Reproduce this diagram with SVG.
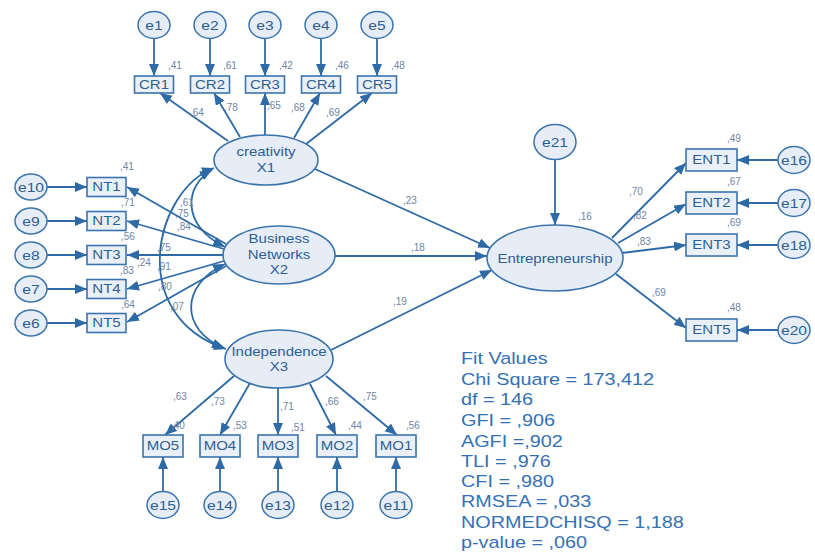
<svg xmlns="http://www.w3.org/2000/svg" width="815" height="556" viewBox="0 0 815 556">
  <style>
    .ln { stroke:#2e6aa6; stroke-width:1.8; fill:none; }
    .ar { marker-end:url(#head); }
    .cv { marker-start:url(#head2); marker-end:url(#head2); }
    .lat { fill:#e6edf6; stroke:#3b74ad; stroke-width:1.6; }
    .err { fill:#e6edf6; stroke:#3b74ad; stroke-width:1.5; }
    .box { fill:#eaf0f8; stroke:#3b74ad; stroke-width:1.6; }
    text { font-family:"Liberation Sans", Arial, sans-serif; }
    .t { font-size:12.5px; fill:#2d5e94; text-anchor:middle; transform-box:fill-box; transform-origin:center; transform:scaleX(1.2); }
    .te { font-size:13px; fill:#2d5e94; text-anchor:middle; transform-box:fill-box; transform-origin:center; transform:scaleX(1.2); }
    .num { font-size:10px; fill:#6f84a3; }
    .fit { font-size:16.5px; fill:#3371b5; transform-box:fill-box; transform-origin:left center; transform:scaleX(1.2); }
  </style>
  <defs>
    <marker id="head" markerUnits="userSpaceOnUse" markerWidth="13" markerHeight="11" refX="12" refY="5" orient="auto">
      <path d="M0,0 L12,5 L0,10 z" fill="#2e6aa6"/>
    </marker>
    <marker id="head2" markerUnits="userSpaceOnUse" markerWidth="13" markerHeight="11" refX="12" refY="5" orient="auto-start-reverse">
      <path d="M0,0 L12,5 L0,10 z" fill="#2e6aa6"/>
    </marker>
  </defs>
  <rect width="815" height="556" fill="#ffffff"/>

  <g id="connectors">
    <!-- error terms to indicators: creativity -->
    <line class="ln ar" x1="154" y1="38.5" x2="154" y2="76"/>
    <line class="ln ar" x1="210" y1="38.5" x2="210" y2="76"/>
    <line class="ln ar" x1="265" y1="38.5" x2="265" y2="76"/>
    <line class="ln ar" x1="321" y1="38.5" x2="321" y2="76"/>
    <line class="ln ar" x1="377" y1="38.5" x2="377" y2="76"/>
    <!-- creativity loadings -->
    <line class="ln ar" x1="228" y1="141" x2="160" y2="93"/>
    <line class="ln ar" x1="240" y1="137" x2="214" y2="93"/>
    <line class="ln ar" x1="265" y1="135" x2="265" y2="93"/>
    <line class="ln ar" x1="294" y1="138" x2="320" y2="93"/>
    <line class="ln ar" x1="306" y1="144" x2="372" y2="93"/>
    <!-- error terms to indicators: networks -->
    <line class="ln ar" x1="47" y1="187" x2="87" y2="187"/>
    <line class="ln ar" x1="47" y1="221" x2="87" y2="221"/>
    <line class="ln ar" x1="47" y1="255" x2="87" y2="255"/>
    <line class="ln ar" x1="47" y1="289" x2="87" y2="289"/>
    <line class="ln ar" x1="47" y1="323" x2="87" y2="323"/>
    <!-- networks loadings -->
    <line class="ln ar" x1="226" y1="244" x2="127" y2="187"/>
    <line class="ln ar" x1="224" y1="249" x2="127" y2="221"/>
    <line class="ln ar" x1="223" y1="255" x2="127" y2="255"/>
    <line class="ln ar" x1="224" y1="261" x2="127" y2="289"/>
    <line class="ln ar" x1="226" y1="266" x2="127" y2="322"/>
    <!-- covariances between the exogenous factors -->
    <path class="ln cv" d="M214,168 C155,190 125,315 226,349"/>
    <path class="ln cv" d="M212,170 C185,185 180,225 225,247"/>
    <path class="ln cv" d="M225,264 C180,285 180,330 224,348"/>
    <!-- structural paths -->
    <line class="ln ar" x1="315" y1="169" x2="490" y2="248"/>
    <line class="ln ar" x1="335" y1="256" x2="487" y2="256"/>
    <line class="ln ar" x1="331" y1="350" x2="492" y2="270"/>
    <line class="ln ar" x1="555" y1="160" x2="555" y2="225"/>
    <!-- entrepreneurship loadings -->
    <line class="ln ar" x1="612" y1="238" x2="686" y2="163"/>
    <line class="ln ar" x1="618" y1="243" x2="686" y2="204"/>
    <line class="ln ar" x1="622" y1="253" x2="686" y2="245"/>
    <line class="ln ar" x1="616" y1="274" x2="686" y2="328"/>
    <line class="ln ar" x1="778" y1="160" x2="737" y2="160"/>
    <line class="ln ar" x1="778" y1="203" x2="737" y2="203"/>
    <line class="ln ar" x1="778" y1="245" x2="737" y2="245"/>
    <line class="ln ar" x1="778" y1="330" x2="737" y2="330"/>
    <!-- independence loadings -->
    <line class="ln ar" x1="234" y1="376" x2="165" y2="435"/>
    <line class="ln ar" x1="250" y1="383" x2="220" y2="435"/>
    <line class="ln ar" x1="278" y1="388" x2="278" y2="435"/>
    <line class="ln ar" x1="310" y1="384" x2="336" y2="435"/>
    <line class="ln ar" x1="326" y1="376" x2="397" y2="435"/>
    <line class="ln ar" x1="163" y1="491.5" x2="163" y2="457"/>
    <line class="ln ar" x1="220" y1="491.5" x2="220" y2="457"/>
    <line class="ln ar" x1="278" y1="491.5" x2="278" y2="457"/>
    <line class="ln ar" x1="337" y1="491.5" x2="337" y2="457"/>
    <line class="ln ar" x1="396" y1="491.5" x2="396" y2="457"/>

    <!-- standardized estimates on paths -->
    <text class="num" x="190" y="116">,64</text>
    <text class="num" x="224" y="111">,78</text>
    <text class="num" x="267" y="109">,65</text>
    <text class="num" x="291" y="111">,68</text>
    <text class="num" x="326" y="116">,69</text>
    <text class="num" x="180" y="206">,61</text>
    <text class="num" x="175" y="217">,75</text>
    <text class="num" x="177" y="230">,84</text>
    <text class="num" x="157" y="251">,75</text>
    <text class="num" x="137" y="266">,24</text>
    <text class="num" x="157" y="270">,91</text>
    <text class="num" x="158" y="290">,80</text>
    <text class="num" x="170" y="310">,07</text>
    <text class="num" x="403" y="204">,23</text>
    <text class="num" x="411" y="251">,18</text>
    <text class="num" x="393" y="305">,19</text>
    <text class="num" x="629" y="195">,70</text>
    <text class="num" x="633" y="219">,82</text>
    <text class="num" x="637" y="245">,83</text>
    <text class="num" x="652" y="296">,69</text>
    <text class="num" x="173" y="400">,63</text>
    <text class="num" x="211" y="405">,73</text>
    <text class="num" x="280" y="410">,71</text>
    <text class="num" x="325" y="405">,66</text>
    <text class="num" x="363" y="400">,75</text>
  </g>

  <!-- creativity block -->
  <g id="e1"><ellipse class="err" cx="154" cy="25" rx="16" ry="13.5"/><text class="te" x="154" y="30">e1</text></g>
  <g id="e2"><ellipse class="err" cx="210" cy="25" rx="16" ry="13.5"/><text class="te" x="210" y="30">e2</text></g>
  <g id="e3"><ellipse class="err" cx="265" cy="25" rx="16" ry="13.5"/><text class="te" x="265" y="30">e3</text></g>
  <g id="e4"><ellipse class="err" cx="321" cy="25" rx="16" ry="13.5"/><text class="te" x="321" y="30">e4</text></g>
  <g id="e5"><ellipse class="err" cx="377" cy="25" rx="16" ry="13.5"/><text class="te" x="377" y="30">e5</text></g>
  <g id="CR1"><rect class="box" x="134.5" y="76" width="39" height="17"/><text class="t" x="154" y="89">CR1</text><text class="num" x="168" y="69">,41</text></g>
  <g id="CR2"><rect class="box" x="190.5" y="76" width="39" height="17"/><text class="t" x="210" y="89">CR2</text><text class="num" x="223" y="69">,61</text></g>
  <g id="CR3"><rect class="box" x="245.5" y="76" width="39" height="17"/><text class="t" x="265" y="89">CR3</text><text class="num" x="279" y="69">,42</text></g>
  <g id="CR4"><rect class="box" x="301.5" y="76" width="39" height="17"/><text class="t" x="321" y="89">CR4</text><text class="num" x="335" y="69">,46</text></g>
  <g id="CR5"><rect class="box" x="357.5" y="76" width="39" height="17"/><text class="t" x="377" y="89">CR5</text><text class="num" x="391" y="69">,48</text></g>
  <g id="creativity"><ellipse class="lat" cx="266" cy="160" rx="52" ry="25"/><text class="t" x="266" y="156.5">creativity</text><text class="t" x="266" y="172.5">X1</text></g>

  <!-- business networks block -->
  <g id="e10"><ellipse class="err" cx="31" cy="187" rx="16" ry="13"/><text class="te" x="31" y="192">e10</text></g>
  <g id="e9"><ellipse class="err" cx="31" cy="221" rx="16" ry="13"/><text class="te" x="31" y="226">e9</text></g>
  <g id="e8"><ellipse class="err" cx="31" cy="255" rx="16" ry="13"/><text class="te" x="31" y="260">e8</text></g>
  <g id="e7"><ellipse class="err" cx="31" cy="289" rx="16" ry="13"/><text class="te" x="31" y="294">e7</text></g>
  <g id="e6"><ellipse class="err" cx="31" cy="323" rx="16" ry="13"/><text class="te" x="31" y="328">e6</text></g>
  <g id="NT1"><rect class="box" x="87" y="177.5" width="39" height="19"/><text class="t" x="106.5" y="191.5">NT1</text><text class="num" x="120" y="170">,41</text></g>
  <g id="NT2"><rect class="box" x="87" y="211.5" width="39" height="19"/><text class="t" x="106.5" y="225.5">NT2</text><text class="num" x="121" y="206">,71</text></g>
  <g id="NT3"><rect class="box" x="87" y="245.5" width="39" height="19"/><text class="t" x="106.5" y="259.5">NT3</text><text class="num" x="121" y="240">,56</text></g>
  <g id="NT4"><rect class="box" x="87" y="279.5" width="39" height="19"/><text class="t" x="106.5" y="293.5">NT4</text><text class="num" x="120" y="274">,83</text></g>
  <g id="NT5"><rect class="box" x="87" y="313.5" width="39" height="19"/><text class="t" x="106.5" y="327.5">NT5</text><text class="num" x="121" y="308">,64</text></g>
  <g id="business-networks"><ellipse class="lat" cx="279" cy="255" rx="56" ry="29"/><text class="t" x="279" y="243.5">Business</text><text class="t" x="279" y="259">Networks</text><text class="t" x="279" y="274.5">X2</text></g>

  <!-- independence block -->
  <g id="independence"><ellipse class="lat" cx="279" cy="359" rx="54" ry="29"/><text class="t" x="279" y="356.5">Independence</text><text class="t" x="279" y="371.5">X3</text></g>
  <g id="MO5"><rect class="box" x="143" y="435" width="40" height="22"/><text class="t" x="163" y="450.5">MO5</text><text class="num" x="171" y="429">,40</text></g>
  <g id="MO4"><rect class="box" x="200" y="435" width="40" height="22"/><text class="t" x="220" y="450.5">MO4</text><text class="num" x="233" y="429">,53</text></g>
  <g id="MO3"><rect class="box" x="258" y="435" width="40" height="22"/><text class="t" x="278" y="450.5">MO3</text><text class="num" x="291" y="431">,51</text></g>
  <g id="MO2"><rect class="box" x="317" y="435" width="40" height="22"/><text class="t" x="337" y="450.5">MO2</text><text class="num" x="348" y="429">,44</text></g>
  <g id="MO1"><rect class="box" x="376" y="435" width="40" height="22"/><text class="t" x="396" y="450.5">MO1</text><text class="num" x="406" y="429">,56</text></g>
  <g id="e15"><ellipse class="err" cx="163" cy="505" rx="16" ry="13.5"/><text class="te" x="163" y="510">e15</text></g>
  <g id="e14"><ellipse class="err" cx="220" cy="505" rx="16" ry="13.5"/><text class="te" x="220" y="510">e14</text></g>
  <g id="e13"><ellipse class="err" cx="278" cy="505" rx="16" ry="13.5"/><text class="te" x="278" y="510">e13</text></g>
  <g id="e12"><ellipse class="err" cx="337" cy="505" rx="16" ry="13.5"/><text class="te" x="337" y="510">e12</text></g>
  <g id="e11"><ellipse class="err" cx="396" cy="505" rx="16" ry="13.5"/><text class="te" x="396" y="510">e11</text></g>

  <!-- entrepreneurship block -->
  <g id="e21"><ellipse class="err" cx="555" cy="142" rx="21" ry="17.5"/><text class="te" x="555" y="147">e21</text></g>
  <g id="entrepreneurship"><ellipse class="lat" cx="555" cy="258" rx="68" ry="33"/><text class="t" x="555" y="263">Entrepreneurship</text><text class="num" x="578" y="220">,16</text></g>
  <g id="ENT1"><rect class="box" x="686" y="149" width="51" height="22"/><text class="t" x="711.5" y="164.5">ENT1</text><text class="num" x="727" y="142">,49</text></g>
  <g id="ENT2"><rect class="box" x="686" y="192" width="51" height="22"/><text class="t" x="711.5" y="207.5">ENT2</text><text class="num" x="727" y="185">,67</text></g>
  <g id="ENT3"><rect class="box" x="686" y="234" width="51" height="22"/><text class="t" x="711.5" y="249.5">ENT3</text><text class="num" x="727" y="226">,69</text></g>
  <g id="ENT5"><rect class="box" x="686" y="319" width="51" height="22"/><text class="t" x="711.5" y="334.5">ENT5</text><text class="num" x="727" y="311">,48</text></g>
  <g id="e16"><ellipse class="err" cx="794" cy="160" rx="16" ry="13.5"/><text class="te" x="794" y="165">e16</text></g>
  <g id="e17"><ellipse class="err" cx="794" cy="203" rx="16" ry="13.5"/><text class="te" x="794" y="208">e17</text></g>
  <g id="e18"><ellipse class="err" cx="794" cy="245" rx="16" ry="13.5"/><text class="te" x="794" y="250">e18</text></g>
  <g id="e20"><ellipse class="err" cx="794" cy="330" rx="16" ry="13.5"/><text class="te" x="794" y="335">e20</text></g>

  <!-- model fit summary -->
  <g id="fit-values">
    <text class="fit" x="461" y="364">Fit Values</text>
    <text class="fit" x="461" y="385">Chi Square = 173,412</text>
    <text class="fit" x="461" y="405">df = 146</text>
    <text class="fit" x="461" y="426">GFI = ,906</text>
    <text class="fit" x="461" y="447">AGFI =,902</text>
    <text class="fit" x="461" y="467">TLI = ,976</text>
    <text class="fit" x="461" y="487">CFI = ,980</text>
    <text class="fit" x="461" y="507">RMSEA = ,033</text>
    <text class="fit" x="461" y="528">NORMEDCHISQ = 1,188</text>
    <text class="fit" x="461" y="548">p-value = ,060</text>
  </g>
</svg>
